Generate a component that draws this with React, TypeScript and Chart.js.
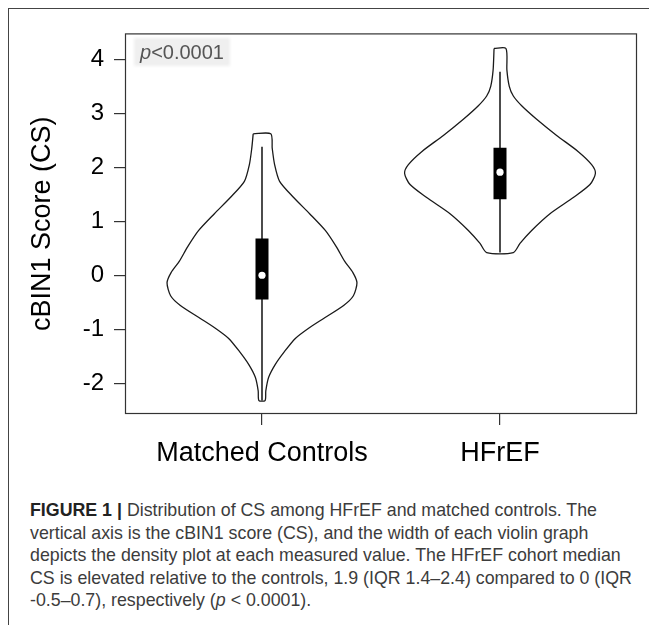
import React, { useEffect, useRef } from 'react';
import { Chart, registerables } from 'chart.js';

Chart.register(...registerables);

const categories = ['Matched Controls', 'HFrEF'];
const categoryPositions = [1, 2];
const yTicks = [-2, -1, 0, 1, 2, 3, 4];

const controlsY = [2.62, 2.35, 2.05, 1.74, 1.44, 1.14, 0.83, 0.53, 0.26, 0.05, -0.14, -0.38, -0.56, -0.8, -0.99, -1.17, -1.41, -1.65, -1.89, -2.14, -2.32];
const controlsHalfWidth = [0.037, 0.043, 0.053, 0.074, 0.133, 0.2, 0.266, 0.312, 0.347, 0.382, 0.399, 0.384, 0.343, 0.259, 0.193, 0.14, 0.095, 0.056, 0.028, 0.016, 0.013];
const hfrefY = [4.2, 3.8, 3.5, 3.32, 3.14, 2.89, 2.59, 2.29, 2.05, 1.89, 1.68, 1.44, 1.14, 0.83, 0.59, 0.42];
const hfrefHalfWidth = [0.025, 0.029, 0.039, 0.056, 0.091, 0.154, 0.238, 0.329, 0.385, 0.401, 0.378, 0.308, 0.21, 0.133, 0.084, 0.056];

const medians = [0, 1.91];
const q1 = [-0.45, 1.41];
const q3 = [0.68, 2.36];
const whiskerLow = [-2.32, 0.42];
const whiskerHigh = [2.38, 3.77];

const pValueText = 'p<0.0001';
const captionLines = [
  'Distribution of CS among HFrEF and matched controls. The',
  'vertical axis is the cBIN1 score (CS), and the width of each violin graph',
  'depicts the density plot at each measured value. The HFrEF cohort median',
  'CS is elevated relative to the controls, 1.9 (IQR 1.4–2.4) compared to 0 (IQR',
];

const FONT = '"Liberation Sans", Arial, Helvetica, sans-serif';

function outline(pos: number, ys: number[], hws: number[]) {
  const left = ys.map((y, i) => ({ x: pos - hws[i], y }));
  const right = ys.map((y, i) => ({ x: pos + hws[i], y })).reverse();
  return [...left, ...right, left[0]];
}

const frameBorderPlugin = {
  id: 'frameBorder',
  afterDraw(chart: any) {
    const { ctx, chartArea } = chart;
    ctx.save();
    ctx.strokeStyle = '#333';
    ctx.lineWidth = 1.2;
    ctx.strokeRect(chartArea.left + 0.5, chartArea.top + 0.5, chartArea.right - chartArea.left - 1, chartArea.bottom - chartArea.top - 1);
    ctx.restore();
  },
};

export default function App() {
  const ref = useRef<HTMLCanvasElement>(null);

  useEffect(() => {
    if (!ref.current) return;
    const violinSets = [
      outline(categoryPositions[0], controlsY, controlsHalfWidth),
      outline(categoryPositions[1], hfrefY, hfrefHalfWidth),
    ];
    const datasets: any[] = [];
    datasets.push({
      label: 'median',
      data: categoryPositions.map((p, i) => ({ x: p, y: medians[i] })),
      pointRadius: 3.6,
      pointBackgroundColor: '#ffffff',
      pointBorderWidth: 0,
      showLine: false,
      order: 0,
    });
    categoryPositions.forEach((p, i) => {
      datasets.push({
        label: 'box' + i,
        data: [{ x: p, y: q1[i] }, { x: p, y: q3[i] }],
        borderColor: '#000',
        borderWidth: 13,
        borderCapStyle: 'butt',
        pointRadius: 0,
        showLine: true,
        order: 1,
      });
      datasets.push({
        label: 'whisker' + i,
        data: [{ x: p, y: whiskerLow[i] }, { x: p, y: whiskerHigh[i] }],
        borderColor: '#111',
        borderWidth: 1.5,
        pointRadius: 0,
        showLine: true,
        order: 2,
      });
      datasets.push({
        label: 'violin' + i,
        data: violinSets[i],
        borderColor: '#1a1a1a',
        borderWidth: 1.3,
        pointRadius: 0,
        showLine: true,
        tension: 0.25,
        fill: false,
        order: 3,
      });
    });

    const chart = new Chart(ref.current, {
      type: 'scatter',
      data: { datasets },
      options: {
        animation: false,
        responsive: false,
        events: [],
        layout: { padding: { top: 17, right: 20, left: 0, bottom: 0 } },
        plugins: { legend: { display: false }, tooltip: { enabled: false } },
        scales: {
          x: {
            type: 'linear',
            min: 0.4244,
            max: 2.5756,
            afterBuildTicks: (scale: any) => {
              scale.ticks = categoryPositions.map((v) => ({ value: v }));
            },
            afterFit: (scale: any) => {
              scale.height = 65;
            },
            ticks: {
              callback: (v: any) => categories[categoryPositions.indexOf(Number(v))] ?? '',
              color: '#000',
              font: { family: FONT, size: 27 },
              padding: 12,
              maxRotation: 0,
              autoSkip: false,
            },
            grid: { drawOnChartArea: false, drawTicks: true, tickLength: 11, color: '#333', lineWidth: 1.2 },
            border: { display: false },
          },
          y: {
            type: 'linear',
            min: -2.57,
            max: 4.48,
            afterBuildTicks: (scale: any) => {
              scale.ticks = yTicks.map((v) => ({ value: v }));
            },
            afterFit: (scale: any) => {
              scale.width = 116;
            },
            ticks: {
              color: '#000',
              font: { family: FONT, size: 24 },
              padding: 10,
              autoSkip: false,
            },
            grid: { drawOnChartArea: false, drawTicks: true, tickLength: 11, color: '#333', lineWidth: 1.2 },
            border: { display: false },
            title: {
              display: true,
              text: 'cBIN1 Score (CS)',
              color: '#000',
              font: { family: FONT, size: 27 },
              padding: { top: 17, bottom: 0 },
            },
          },
        },
      },
      plugins: [frameBorderPlugin],
    });
    return () => chart.destroy();
  }, []);

  return (
    <div
      style={{
        position: 'relative',
        width: 649,
        height: 625,
        marginBottom: -8,
        boxSizing: 'border-box',
        borderTop: '1px solid #444',
        borderLeft: '1px solid #444',
        fontFamily: FONT,
      }}
    >
      <canvas ref={ref} width={648} height={470} style={{ position: 'absolute', left: 0, top: 0, width: 648, height: 470 }} />
      <div
        style={{
          position: 'absolute',
          left: 127,
          top: 31,
          padding: '1px 4px',
          background: '#efefef',
          boxShadow: '0 0 3px 2px #efefef',
          color: '#555',
          fontSize: 20,
          lineHeight: '22px',
          whiteSpace: 'nowrap',
        }}
      >
        <i>{pValueText.slice(0, 1)}</i>
        {pValueText.slice(1)}
      </div>
      <div
        style={{
          position: 'absolute',
          left: 21,
          top: 490,
          fontSize: 17.8,
          lineHeight: '22.5px',
          color: '#3c3c3c',
          whiteSpace: 'nowrap',
        }}
      >
        <div>
          <b style={{ color: '#222' }}>FIGURE 1 |</b> {captionLines[0]}
        </div>
        <div>{captionLines[1]}</div>
        <div>{captionLines[2]}</div>
        <div>{captionLines[3]}</div>
        <div>
          -0.5–0.7), respectively (<i>p</i> &lt; 0.0001).
        </div>
      </div>
    </div>
  );
}
